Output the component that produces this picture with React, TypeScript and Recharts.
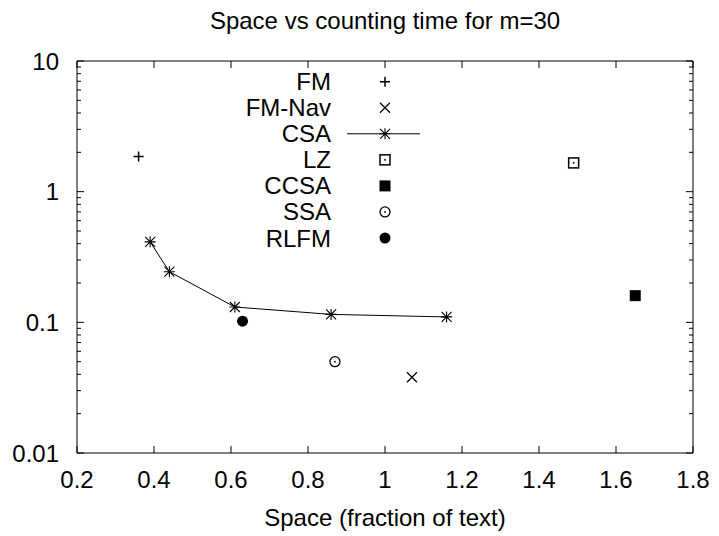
import React from 'react';
import {
  ScatterChart,
  Scatter,
  XAxis,
  YAxis,
  ReferenceLine,
  ReferenceArea,
  Customized,
} from 'recharts';

// values
const fmX = [0.36];
const fmY = [1.86];
const fmNavX = [1.07];
const fmNavY = [0.038];
const csaX = [0.39, 0.44, 0.61, 0.86, 1.16];
const csaY = [0.413, 0.244, 0.131, 0.115, 0.11];
const lzX = [1.49];
const lzY = [1.66];
const ccsaX = [1.65];
const ccsaY = [0.16];
const ssaX = [0.87];
const ssaY = [0.05];
const rlfmX = [0.63];
const rlfmY = [0.102];

const seriesNames = ['FM', 'FM-Nav', 'CSA', 'LZ', 'CCSA', 'SSA', 'RLFM'];
const seriesKinds = ['plus', 'cross', 'star', 'boxdot', 'box', 'circledot', 'dot'];

const xTicks = [0.2, 0.4, 0.6, 0.8, 1, 1.2, 1.4, 1.6, 1.8];
const yTicks = [0.01, 0.1, 1, 10];
const yMinorTicks = [
  0.02, 0.03, 0.04, 0.05, 0.06, 0.07, 0.08, 0.09,
  0.2, 0.3, 0.4, 0.5, 0.6, 0.7, 0.8, 0.9,
  2, 3, 4, 5, 6, 7, 8, 9,
];

const FONT = '"Liberation Sans", Arial, Helvetica, sans-serif';
const FS = 24;

const zip = (xs: number[], ys: number[]) => xs.map((x, i) => ({ x, y: ys[i] }));

function drawSymbol(kind: string, cx: number, cy: number) {
  switch (kind) {
    case 'plus':
      return <path d={`M${cx - 5},${cy}h10M${cx},${cy - 5}v10`} stroke="#000" strokeWidth={1.5} fill="none" />;
    case 'cross':
      return <path d={`M${cx - 5},${cy - 5}l10,10M${cx - 5},${cy + 5}l10,-10`} stroke="#000" strokeWidth={1.2} fill="none" />;
    case 'star':
      return (
        <path
          d={`M${cx - 5.5},${cy}h11M${cx},${cy - 5.5}v11M${cx - 5},${cy - 5}l10,10M${cx - 5},${cy + 5}l10,-10`}
          stroke="#000"
          strokeWidth={1.1}
          fill="none"
        />
      );
    case 'boxdot':
      return (
        <g>
          <rect x={cx - 5} y={cy - 5} width={10} height={10} stroke="#000" strokeWidth={1.5} fill="#fff" />
          <rect x={cx - 0.8} y={cy - 0.8} width={1.6} height={1.6} fill="#000" />
        </g>
      );
    case 'box':
      return <rect x={cx - 5.5} y={cy - 5.5} width={11} height={11} fill="#000" />;
    case 'circledot':
      return (
        <g>
          <circle cx={cx} cy={cy} r={5} stroke="#000" strokeWidth={1.3} fill="#fff" />
          <circle cx={cx} cy={cy} r={0.9} fill="#000" />
        </g>
      );
    default:
      return <circle cx={cx} cy={cy} r={5.5} fill="#000" />;
  }
}

const shapeOf = (kind: string) => (p: any) => drawSymbol(kind, p.cx, p.cy);

function Decorations() {
  return (
    <g fontFamily={FONT} fontSize={FS} fill="#000">
      <text x={385} y={29} textAnchor="middle">Space vs counting time for m=30</text>
      <text x={385} y={526} textAnchor="middle">Space (fraction of text)</text>
      {seriesNames.map((name, i) => {
        const cy = 81.7 + i * 26.05;
        return (
          <g key={name}>
            <text x={331} y={cy} dy="0.355em" textAnchor="end">{name}</text>
            {seriesKinds[i] === 'star' && (
              <line x1={347} x2={420} y1={cy} y2={cy} stroke="#000" strokeWidth={1} />
            )}
            {drawSymbol(seriesKinds[i], 385, cy)}
          </g>
        );
      })}
    </g>
  );
}

const yTickShape = (len: number) => (p: any) => {
  const l = Math.min(p.x1, p.x2);
  const r = Math.max(p.x1, p.x2);
  return (
    <path d={`M${l},${p.y1}h${len}M${r},${p.y1}h${-len}`} stroke="#000" strokeWidth={1} />
  );
};

const xTickShape = (p: any) => {
  const t = Math.min(p.y1, p.y2);
  const b = Math.max(p.y1, p.y2);
  return <path d={`M${p.x1},${b}v-7M${p.x1},${t}v7`} stroke="#000" strokeWidth={1} />;
};

export default function App() {
  return (
    <div style={{ position: 'absolute', left: 0, top: 0, background: '#fff' }}>
      <ScatterChart width={719} height={536} margin={{ top: 61, right: 26, bottom: 0, left: 0 }}>
        <XAxis
          type="number"
          dataKey="x"
          domain={[0.2, 1.8]}
          ticks={xTicks}
          allowDataOverflow
          height={83}
          axisLine={false}
          tickLine={false}
          tickSize={0}
          tickMargin={18}
          tickFormatter={(v) => String(v)}
          tick={{ fill: '#000', fontSize: FS, fontFamily: FONT }}
        />
        <YAxis
          type="number"
          dataKey="y"
          scale="log"
          domain={[0.01, 10]}
          ticks={yTicks}
          allowDataOverflow
          width={77}
          axisLine={false}
          tickLine={false}
          tickSize={0}
          tickMargin={18}
          tickFormatter={(v) => String(v)}
          tick={{ fill: '#000', fontSize: FS, fontFamily: FONT }}
        />
        <ReferenceArea x1={0.2} x2={1.8} y1={0.01} y2={10} fill="none" stroke="#000" strokeWidth={1} />
        {yTicks.map((v) => (
          <ReferenceLine key={`ym${v}`} y={v} shape={yTickShape(7)} />
        ))}
        {yMinorTicks.map((v) => (
          <ReferenceLine key={`yn${v}`} y={v} shape={yTickShape(4)} />
        ))}
        {xTicks.map((v) => (
          <ReferenceLine key={`x${v}`} x={v} shape={xTickShape} />
        ))}
        <Scatter name="FM" data={zip(fmX, fmY)} shape={shapeOf('plus')} isAnimationActive={false} />
        <Scatter name="FM-Nav" data={zip(fmNavX, fmNavY)} shape={shapeOf('cross')} isAnimationActive={false} />
        <Scatter
          name="CSA"
          data={zip(csaX, csaY)}
          shape={shapeOf('star')}
          line={{ stroke: '#000', strokeWidth: 1 }}
          lineType="joint"
          isAnimationActive={false}
        />
        <Scatter name="LZ" data={zip(lzX, lzY)} shape={shapeOf('boxdot')} isAnimationActive={false} />
        <Scatter name="CCSA" data={zip(ccsaX, ccsaY)} shape={shapeOf('box')} isAnimationActive={false} />
        <Scatter name="SSA" data={zip(ssaX, ssaY)} shape={shapeOf('circledot')} isAnimationActive={false} />
        <Scatter name="RLFM" data={zip(rlfmX, rlfmY)} shape={shapeOf('dot')} isAnimationActive={false} />
        <Customized component={<Decorations />} />
      </ScatterChart>
    </div>
  );
}
